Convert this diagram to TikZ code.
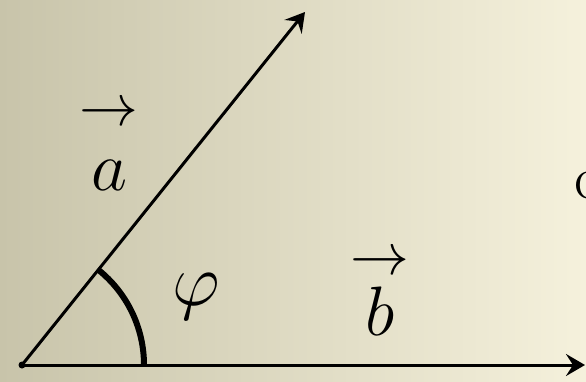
\RequirePackage{fix-cm}
\documentclass[tikz,border=0pt]{standalone}
\usepackage{amsmath}
\usetikzlibrary{arrows.meta,calc}
\definecolor{bgleft}{HTML}{C8C4AA}
\definecolor{bgmid}{HTML}{ECE8D0}
\definecolor{bgright}{HTML}{F5F1DC}
\newcommand\bigvecarrow{\scalebox{1.2}{$\scriptstyle\rightarrow$}}
\tikzset{
  vecline/.style={line width=3pt,-{Stealth[length=19pt,width=22pt,inset=7pt]}},
  anglearc/.style={line width=6pt},
  biglabel/.style={inner sep=0pt,anchor=base,font=\fontsize{70}{70}\selectfont},
}
\begin{document}
\begin{tikzpicture}[x=1pt,y=1pt]
  \shade[left color=bgleft,middle color=bgmid,right color=bgright] (0,0) rectangle (586,381);
  \useasboundingbox (0,0) rectangle (586,381);
  \coordinate (O) at (22,16);
  \coordinate (A) at (305,369);
  \coordinate (B) at (585,16);
  \coordinate (arcstart) at (144,16);
  \draw[vecline] (O) -- (A);
  \draw[vecline] (O) -- (B);
  \draw[anglearc] (arcstart) arc[start angle=0,end angle=51.3,radius=122];
  \fill (O) circle (3.5pt);
  \node[biglabel] (la) at (109,191) {$\overset{\bigvecarrow}{\rule{0pt}{60pt}a}$};
  \node[biglabel] (lb) at (380,46) {$\overset{\bigvecarrow}{\rule{0pt}{56pt}b}$};
  \node[biglabel,font=\fontsize{74}{74}\selectfont] (lphi) at (196,76) {$\varphi$};
  \node[inner sep=0pt,anchor=base west,font=\fontsize{60}{60}\selectfont] (lc) at (574,183) {c};
\end{tikzpicture}
\end{document}
